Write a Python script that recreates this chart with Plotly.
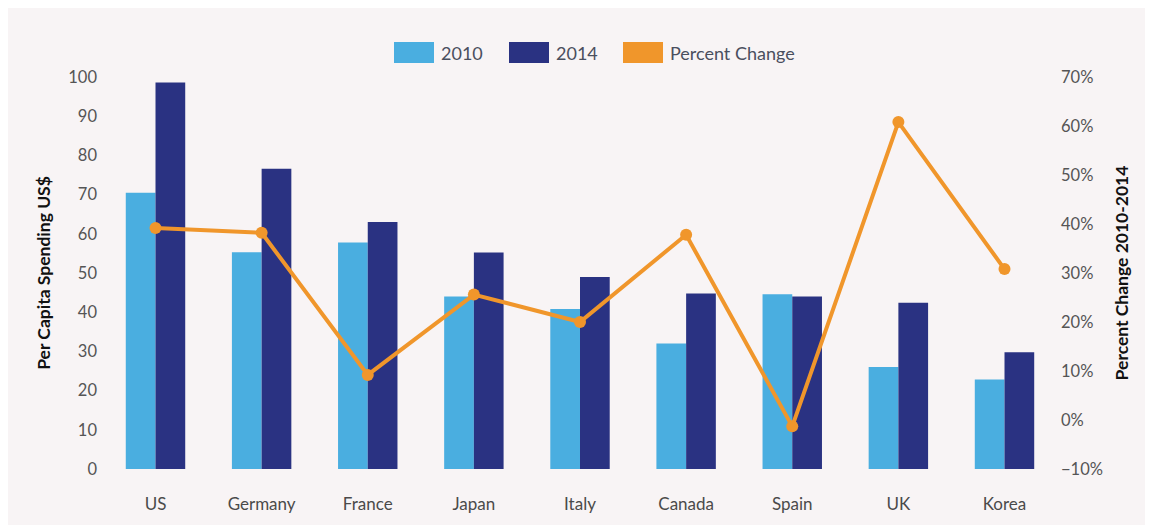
import plotly.graph_objects as go

countries = ["US", "Germany", "France", "Japan", "Italy", "Canada", "Spain", "UK", "Korea"]
spend_2010 = [70.5, 55.3, 57.8, 44.0, 40.8, 32.0, 44.6, 26.0, 22.8]
spend_2014 = [98.6, 76.6, 63.0, 55.2, 49.0, 44.8, 44.0, 42.4, 29.8]
pct_change = [39.2, 38.2, 9.2, 25.6, 20.0, 37.8, -1.3, 60.8, 30.8]

c2010 = "#4aaee0"
c2014 = "#2a3282"
cpct = "#f0962b"
bg = "#f8f4f5"
font_fam = "Lato, 'Open Sans', sans-serif"

fig = go.Figure()
fig.add_trace(go.Bar(x=countries, y=spend_2010, name="2010", marker_color=c2010,
                     marker_line_width=0, showlegend=False))
fig.add_trace(go.Bar(x=countries, y=spend_2014, name="2014", marker_color=c2014,
                     marker_line_width=0, showlegend=False))
fig.add_trace(go.Scatter(x=countries, y=pct_change, name="Percent Change", yaxis="y2",
                         mode="lines+markers", line=dict(color=cpct, width=4),
                         marker=dict(color=cpct, size=12), showlegend=False))

OFF = 8  # page body margin
FW, FH = 1160, 530
L, R, T, B = 100 - OFF, 1060 - OFF, 77 - OFF, 469 - OFF
W, H = R - L, B - T

def px_x(p):
    return (p - OFF - L) / W

def px_y(p):
    return (B - (p - OFF)) / H

shapes = []
annotations = []
legend_items = [("2010", c2010, 394, 434), ("2014", c2014, 509, 549),
                ("Percent Change", cpct, 623, 663)]
for label, col, a, b in legend_items:
    shapes.append(dict(type="rect", xref="paper", yref="paper",
                       x0=px_x(a), x1=px_x(b), y0=px_y(63), y1=px_y(42),
                       fillcolor=col, line_width=0))
    annotations.append(dict(text=label, xref="paper", yref="paper", x=px_x(b + 5),
                            y=px_y(52.5), xanchor="left", yanchor="middle", showarrow=False,
                            font=dict(size=18, color="#4a4f5e", family=font_fam)))

fig.update_layout(
    width=FW, height=FH,
    margin=dict(l=L, r=FW - R, t=T, b=FH - B),
    paper_bgcolor=bg, plot_bgcolor=bg,
    barmode="group", bargap=0.44, bargroupgap=0,
    font=dict(family=font_fam, color="#555555", size=16),
    shapes=shapes, annotations=annotations,
    xaxis=dict(showgrid=False, zeroline=False, showline=False, ticks="",
               ticklabelstandoff=23,
               tickfont=dict(size=17, color="#4a4a4a")),
    yaxis=dict(range=[0, 100], dtick=10, showgrid=False, zeroline=False,
               ticklabelstandoff=2,
               title=dict(text="<b>Per Capita Spending US$</b>", standoff=13,
                          font=dict(size=17.5, color="#111111")),
               tickfont=dict(size=16.5, color="#555555")),
    yaxis2=dict(range=[-10, 70], dtick=10, overlaying="y", side="right",
                showgrid=False, zeroline=False, ticksuffix="%",
                ticklabelstandoff=0,
                title=dict(text="<b>Percent Change 2010-2014</b>", standoff=13,
                           font=dict(size=17.5, color="#111111")),
                tickfont=dict(size=16.5, color="#555555")),
)

fig.write_html("out.html", default_width=f"{FW}px", default_height=f"{FH}px")
